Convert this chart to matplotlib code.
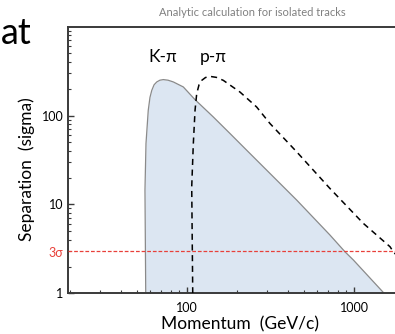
import matplotlib
matplotlib.use("Agg")
import matplotlib.pyplot as plt
import numpy as np

plt.rcParams['font.family'] = ['Lato', 'DejaVu Sans']

# K-pi separation curve (momentum GeV/c, separation sigma)
kpi_p = [56.6, 56.0, 56.8, 58.6, 60.0, 61.5, 63.5, 65.9, 68.8, 72.1, 77.0,
         82.8, 95.0, 111.7, 143.7, 180.9, 227.8, 286.4, 453.6, 718, 883, 991, 1514]
kpi_s = [1.0, 14.5, 48.5, 114.7, 160, 192, 222, 239, 250, 254, 250,
         239, 210, 151, 96.4, 62.8, 40.7, 26.5, 11.2, 4.52, 2.93, 2.37, 1.0]

# p-pi separation curve
ppi_p = [108.2, 106.7, 109.1, 111.7, 114.3, 118.0, 122.5, 129.0, 137.3, 150.0,
         164.9, 207.5, 261, 314, 454, 718, 1137, 1643, 1719, 1900]
ppi_s = [1.0, 15.8, 48.5, 114.7, 176.6, 222, 249, 268, 276, 269,
         249, 184, 125, 81.3, 39.0, 15.1, 6.12, 3.34, 2.93, 2.4]

threshold = 3
x_ticks = [100, 1000]
y_ticks = [1, 10, 100]

fig = plt.figure(figsize=(3.95, 3.34), dpi=100)
ax = fig.add_axes([67.7/395, (334-293.3)/334, (404.3-67.7)/395, 266.6/334])
ax.set_xscale('log')
ax.set_yscale('log')
ax.set_xlim(19.3, 2000)
ax.set_ylim(1, 1000)

ax.fill_between(kpi_p, kpi_s, 1, color='#dce6f2', lw=0, zorder=1)
ax.plot(kpi_p, kpi_s, color='#8a8a8a', lw=0.9, zorder=2)
ax.plot(ppi_p, ppi_s, color='black', lw=1.1, ls=(0, (4, 3)), zorder=3)
ax.axhline(threshold, color='#e8403a', lw=0.9, ls=(0, (3, 1.5)), zorder=4)

for s in ['right']:
    ax.spines[s].set_visible(False)
for s in ['left', 'bottom', 'top']:
    ax.spines[s].set_color('#3a3a3a')
    ax.spines[s].set_linewidth(1.4)

ax.set_xticks(x_ticks)
ax.set_xticklabels([str(t) for t in x_ticks])
ax.set_yticks(y_ticks)
ax.set_yticklabels([str(t) for t in y_ticks])
ax.tick_params(which='major', direction='in', length=4, width=1, color='#3a3a3a',
               labelsize=9, pad=3)
ax.tick_params(which='minor', direction='in', length=2.5, width=0.8, color='#3a3a3a')
ax.tick_params(axis='x', which='major', pad=6)
ax.xaxis.set_minor_formatter(matplotlib.ticker.NullFormatter())
ax.yaxis.set_minor_formatter(matplotlib.ticker.NullFormatter())

fig.text(63/395, (334-253)/334, '3σ', color='#e8403a', fontsize=9,
         ha='right', va='center')
fig.text(27/395, (334-169)/334, 'Separation  (sigma)', rotation=90, fontsize=12.5,
         ha='center', va='center')
fig.text(240/395, (334-324)/334, 'Momentum  (GeV/c)', fontsize=12.5,
         ha='center', va='center')
fig.text(252/395, (334-12)/334, 'Analytic calculation for isolated tracks',
         fontsize=8, color='#808080', ha='center', va='center')
fig.text(163/395, (334-57)/334, 'K-π', fontsize=12.5, ha='center', va='center')
fig.text(213/395, (334-57)/334, 'p-π', fontsize=12.5, ha='center', va='center')
fig.text(1/395, (334-44)/334, 'at', fontsize=26, ha='left', va='baseline')

fig.savefig('out.png', dpi=100)
